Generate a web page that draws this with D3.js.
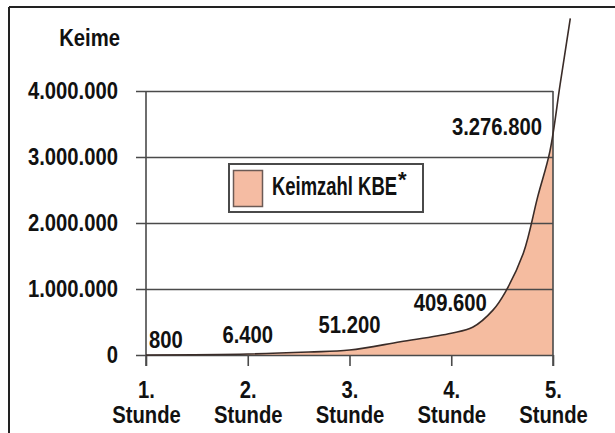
<!DOCTYPE html>
<html>
<head>
<meta charset="utf-8">
<script src="https://cdn.jsdelivr.net/npm/d3@7"></script>
<style>
  html, body { margin: 0; padding: 0; background: #ffffff; }
  svg { display: block; }
  text { font-family: "Liberation Sans", Arial, Helvetica, sans-serif; font-weight: bold; fill: #111; }
</style>
</head>
<body>
<svg id="chart" width="615" height="433"></svg>
<script>
// ---- data ----
const hourLabels = ["1.", "2.", "3.", "4.", "5."];
const hourUnit = "Stunde";
const hours = [1, 2, 3, 4, 5];
const keimzahl = [800, 6400, 51200, 409600, 3276800];
const yTicks = [0, 1000000, 2000000, 3000000, 4000000];
// drawn growth curve (hour, germs)
const curveHour = [1, 2, 2.6, 3, 3.5, 4, 4.21, 4.41, 4.53, 4.71, 4.85, 4.97, 5.07, 5.17];
const curveValue = [800, 15000, 45000, 75000, 200000, 330000, 420000, 680000, 950000, 1550000, 2400000, 3090000, 4100000, 5100000];
const yTitle = "Keime";
const legendLabel = "Keimzahl KBE";
const legendMark = "*";

// ---- layout ----
const svg = d3.select("#chart");
const pL = 146, pR = 553, pT = 91, pB = 355;
const x = d3.scaleLinear().domain([1, 5]).range([pL, pR]);
const y = d3.scaleLinear().domain([0, 4000000]).range([pB, pT]);
const de = d3.formatLocale({decimal: ",", thousands: ".", grouping: [3], currency: ["", " €"]});
const fmt = de.format(",d");
const FS = 23, SX = 0.88;
const curve = d3.curveCatmullRom.alpha(0.5);

function label(g, txt, px, py, anchor, size, sx) {
  return g.append("text")
    .attr("transform", `translate(${px},${py}) scale(${sx},1)`)
    .attr("text-anchor", anchor)
    .style("font-size", size + "px")
    .text(txt);
}

svg.append("rect").attr("width", 615).attr("height", 433).attr("fill", "#fff");

// outer frame (top + left visible)
svg.append("line").attr("x1", 9).attr("x2", 615).attr("y1", 7).attr("y2", 7)
  .attr("stroke", "#222").attr("stroke-width", 2);
svg.append("line").attr("x1", 9).attr("x2", 9).attr("y1", 7).attr("y2", 433)
  .attr("stroke", "#222").attr("stroke-width", 2);

// clip for area fill
svg.append("clipPath").attr("id", "plotClip")
  .append("rect").attr("x", pL).attr("y", pT).attr("width", pR - pL).attr("height", pB - pT);

const pts = curveHour.map((h, i) => [h, curveValue[i]]);

// area fill
svg.append("path")
  .datum(pts)
  .attr("clip-path", "url(#plotClip)")
  .attr("fill", "#f5bca0")
  .attr("d", d3.area().curve(curve).x(d => x(d[0])).y0(y(0)).y1(d => y(d[1])));

// y axis with gridlines
const yAxis = svg.append("g")
  .attr("transform", `translate(${pR},0)`)
  .call(d3.axisLeft(y).tickValues(yTicks).tickSize(pR - 136).tickPadding(0).tickFormat(fmt));
yAxis.select(".domain").remove();
yAxis.selectAll(".tick line").attr("stroke", "#4a4a4a").attr("stroke-width", 1.6);
yAxis.selectAll(".tick text").remove();
yAxis.selectAll(".tick").each(function(d) {
  label(d3.select(this), fmt(d), 118 - pR, 7, "end", FS, SX);
});

// left axis line and right border
svg.append("line").attr("x1", pL).attr("x2", pL).attr("y1", pT).attr("y2", 366)
  .attr("stroke", "#4a4a4a").attr("stroke-width", 1.6);
svg.append("line").attr("x1", pR).attr("x2", pR).attr("y1", pT).attr("y2", 366)
  .attr("stroke", "#4a4a4a").attr("stroke-width", 1.6);

// x axis ticks
const xAxis = svg.append("g")
  .attr("transform", `translate(0,${pB})`)
  .call(d3.axisBottom(x).tickValues(hours).tickSize(11).tickFormat(""));
xAxis.select(".domain").remove();
xAxis.selectAll(".tick line").attr("stroke", "#4a4a4a").attr("stroke-width", 1.6);
xAxis.selectAll(".tick").each(function(d, i) {
  const t = d3.select(this);
  label(t, hourLabels[i], 0, 43, "middle", FS, SX);
  label(t, hourUnit, 0, 68, "middle", FS, SX);
});

// curve line
svg.append("path")
  .datum(pts)
  .attr("fill", "none")
  .attr("stroke", "#3a2c28")
  .attr("stroke-width", 1.6)
  .attr("d", d3.line().curve(curve).x(d => x(d[0])).y(d => y(d[1])));

// value labels
const labelDy = [-7, -12, -19, -17, -4];
const labelDx = [3, 0, 0, -1, -11];
keimzahl.forEach((v, i) => {
  const anchor = i === 0 ? "start" : (i === keimzahl.length - 1 ? "end" : "middle");
  label(svg, fmt(v), x(hours[i]) + labelDx[i], y(v) + labelDy[i], anchor, FS, SX);
});

// y title
label(svg, yTitle, 120, 46, "end", FS, SX);

// legend
const lg = svg.append("g");
lg.append("rect").attr("x", 229).attr("y", 164).attr("width", 194).attr("height", 48)
  .attr("fill", "#fff").attr("stroke", "#4a4a4a").attr("stroke-width", 2);
lg.append("rect").attr("x", 233.5).attr("y", 170.5).attr("width", 29).attr("height", 36)
  .attr("fill", "#f5bca3").attr("stroke", "#6b5a55").attr("stroke-width", 1.5);
label(lg, legendLabel, 272, 195, "start", 26, 0.71);
label(lg, legendMark, 398, 187, "start", 22, 1);
</script>
</body>
</html>
